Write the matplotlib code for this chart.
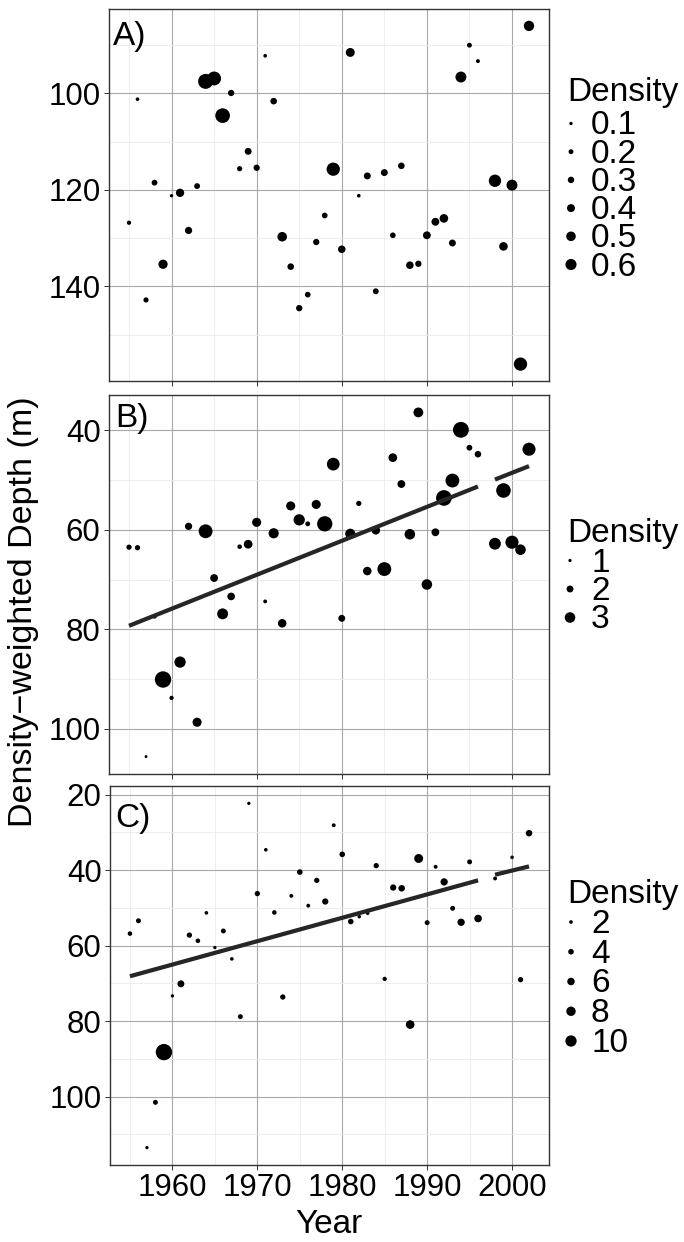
import numpy as np
import matplotlib
matplotlib.use("Agg")
import matplotlib.pyplot as plt
from matplotlib.ticker import FixedLocator

plt.rcParams['font.family'] = ['Liberation Sans', 'DejaVu Sans']

# ---------------- data ----------------
YEARS_AB = list(range(1955, 1997)) + [1998, 1999, 2000, 2001, 2002]
YEARS_C = list(range(1955, 1997)) + [1998, 2000, 2001, 2002]

DEPTH_A = [126.8, 101.2, 142.8, 118.5, 135.4, 121.2, 120.6, 128.4, 119.2, 97.5,
           96.9, 104.6, 99.9, 115.6, 112.0, 115.4, 92.2, 101.6, 129.7, 135.9,
           144.5, 141.7, 130.8, 125.3, 115.7, 132.3, 91.5, 121.2, 117.1, 141.0,
           116.4, 129.4, 115.0, 135.6, 135.3, 129.4, 126.6, 125.9, 131.0, 96.6,
           90.0, 93.3, 118.1, 131.7, 119.0, 156.1, 86.0]
DENS_A = [0.16, 0.12, 0.22, 0.26, 0.48, 0.10, 0.42, 0.35, 0.26, 0.85,
          0.78, 0.83, 0.29, 0.22, 0.33, 0.29, 0.12, 0.31, 0.50, 0.31,
          0.29, 0.25, 0.29, 0.25, 0.74, 0.37, 0.46, 0.12, 0.33, 0.26,
          0.33, 0.25, 0.31, 0.37, 0.29, 0.39, 0.39, 0.44, 0.33, 0.59,
          0.20, 0.14, 0.68, 0.44, 0.59, 0.74, 0.55]

DEPTH_B = [63.5, 63.6, 105.6, 77.4, 90.1, 93.8, 86.6, 59.3, 98.7, 60.3,
           69.7, 76.9, 73.4, 63.4, 62.9, 58.5, 74.4, 60.7, 78.8, 55.2,
           58.0, 58.8, 54.9, 58.8, 46.8, 77.8, 60.8, 54.7, 68.3, 60.1,
           67.9, 45.5, 50.8, 60.9, 36.4, 71.0, 60.5, 53.6, 50.1, 39.9,
           43.5, 44.8, 62.8, 52.1, 62.5, 64.0, 43.8]
DENS_B = [1.55, 1.55, 0.9, 1.35, 4.6, 1.27, 3.2, 2.1, 2.6, 3.9,
          2.25, 3.1, 2.2, 1.35, 2.5, 2.6, 1.17, 2.9, 2.45, 2.6,
          3.2, 1.45, 2.6, 4.3, 3.6, 2.0, 2.9, 1.55, 2.45, 2.45,
          3.9, 2.5, 2.25, 3.0, 2.8, 3.0, 2.25, 4.4, 3.9, 4.45,
          1.7, 1.9, 3.35, 4.1, 3.7, 3.0, 3.7]

DEPTH_C = [56.8, 53.4, 113.5, 101.5, 88.2, 73.3, 70.1, 57.2, 58.7, 51.3,
           60.5, 56.1, 63.5, 78.8, 22.3, 46.2, 34.6, 51.2, 73.6, 46.8,
           40.5, 49.4, 42.7, 48.3, 28.1, 35.8, 53.6, 52.3, 51.4, 38.8,
           68.8, 44.6, 44.8, 80.9, 36.9, 53.9, 39.1, 43.1, 50.1, 53.8,
           37.8, 52.8, 42.2, 36.6, 69.0, 30.2]
DENS_C = [2.9, 3.3, 1.6, 3.3, 15.3, 1.6, 5.4, 3.7, 2.9, 1.9,
          1.6, 3.3, 1.9, 3.3, 1.6, 3.7, 1.9, 2.9, 3.7, 2.2,
          4.0, 2.2, 3.7, 4.7, 2.2, 4.0, 4.0, 1.9, 1.9, 3.7,
          2.6, 4.7, 5.0, 7.2, 7.5, 3.3, 2.2, 5.8, 3.3, 5.8,
          3.3, 6.1, 2.2, 1.9, 3.7, 5.0]

# fitted trend lines (two segments, gap at 1997)
FIT_B_YEARS = [[1955, 1996], [1998, 2002]]
FIT_B_DEPTH = [[79.3, 51.3], [49.9, 47.2]]
FIT_C_YEARS = [[1955, 1996], [1998, 2002]]
FIT_C_DEPTH = [[68.1, 42.7], [41.2, 39.0]]

BREAKS_A = [0.1, 0.2, 0.3, 0.4, 0.5, 0.6]
BREAKS_B = [1, 2, 3]
BREAKS_C = [2, 4, 6, 8, 10]
LABELS_A = ['0.1', '0.2', '0.3', '0.4', '0.5', '0.6']
LABELS_B = ['1', '2', '3']
LABELS_C = ['2', '4', '6', '8', '10']

XTICKS = [1960, 1970, 1980, 1990, 2000]
YTICKS_A = [100, 120, 140]
YTICKS_B = [40, 60, 80, 100]
YTICKS_C = [20, 40, 60, 80, 100]

# ---------------- layout ----------------
W, H = 684, 1242
DPI = 100
fig = plt.figure(figsize=(W / DPI, H / DPI), dpi=DPI)
PT = 72.0 / DPI  # points per pixel


def rect(l, t, r, b):
    return [l / W, 1 - b / H, (r - l) / W, (b - t) / H]


def size_px(v, d0, k):
    return d0 + k * np.asarray(v, dtype=float)


def s_of(v, d0, k):
    return (size_px(v, d0, k) * PT) ** 2


XLIM = (1952.65, 2004.35)
FS = 22.5
FS_T = 24

panels = [
    dict(box=(109, 9, 549, 381), years=YEARS_AB, depth=DEPTH_A, dens=DENS_A,
         ylim=(159.6, 82.5), yt=YTICKS_A, fit=None, sz=(1.8, 15.5),
         breaks=BREAKS_A, blabels=LABELS_A, label='A)',
         leg=dict(title_y=100.5, first=134.5, step=28.2, dot_x=571),
         lab_xy=(113, 45)),
    dict(box=(109, 395, 549, 774), years=YEARS_AB, depth=DEPTH_B, dens=DENS_B,
         ylim=(109.1, 32.9), yt=YTICKS_B, fit=(FIT_B_YEARS, FIT_B_DEPTH),
         sz=(-0.4, 3.65), breaks=BREAKS_B, blabels=LABELS_B, label='B)',
         leg=dict(title_y=541.7, first=571.5, step=28.5, dot_x=570),
         lab_xy=(115, 427)),
    dict(box=(110, 786, 549, 1165), years=YEARS_C, depth=DEPTH_C, dens=DENS_C,
         ylim=(118.1, 17.7), yt=YTICKS_C, fit=(FIT_C_YEARS, FIT_C_DEPTH),
         sz=(1.8, 0.95), breaks=BREAKS_C, blabels=LABELS_C, label='C)',
         leg=dict(title_y=903, first=933, step=29.75, dot_x=571),
         lab_xy=(115, 827)),
]

ov = fig.add_axes([0, 0, 1, 1], zorder=10)
ov.set_xlim(0, W)
ov.set_ylim(H, 0)
ov.axis('off')
ov.patch.set_alpha(0)

for i, p in enumerate(panels):
    ax = fig.add_axes(rect(*p['box']))
    ax.set_xlim(*XLIM)
    ax.set_ylim(*p['ylim'])
    ax.xaxis.set_major_locator(FixedLocator(XTICKS))
    ax.xaxis.set_minor_locator(FixedLocator([1955, 1965, 1975, 1985, 1995, 2005]))
    ax.yaxis.set_major_locator(FixedLocator(p['yt']))
    minors = [t + 10 for t in p['yt']] + [p['yt'][0] - 10]
    ax.yaxis.set_minor_locator(FixedLocator(minors))
    ax.grid(True, which='major', color='#a8a8a8', lw=0.8)
    ax.grid(True, which='minor', color='#ebebeb', lw=0.6)
    ax.set_axisbelow(True)
    for sp in ax.spines.values():
        sp.set_color('#333333')
        sp.set_linewidth(1.0)
    ax.tick_params(which='major', length=3.6, width=0.7, color='#333333',
                   labelsize=FS, pad=2.5, labelcolor='black')
    ax.tick_params(which='minor', length=0)
    if i < 2:
        ax.tick_params(axis='x', labelbottom=False)
    ax.scatter(p['years'], p['depth'], s=s_of(p['dens'], *p['sz']),
               c='black', edgecolors='none', zorder=3)
    if p['fit'] is not None:
        for yrs, dep in zip(*p['fit']):
            ax.plot(yrs, dep, color='#262626', lw=4.2 * PT,
                    solid_capstyle='butt', zorder=4)
    # panel label
    ov.text(p['lab_xy'][0], p['lab_xy'][1], p['label'], fontsize=FS_T,
            ha='left', va='baseline')
    # legend
    lg = p['leg']
    ov.text(567, lg['title_y'], 'Density', fontsize=FS_T, ha='left',
            va='baseline')
    for j, (b, lab) in enumerate(zip(p['breaks'], p['blabels'])):
        yb = lg['first'] + j * lg['step']
        ov.scatter([lg['dot_x']], [yb - 11], s=s_of([b], *p['sz']), c='black',
                   edgecolors='none')
        ov.text(591, yb, lab, fontsize=FS_T, ha='left', va='baseline')

fig.text(329 / W, 1 - 1233 / H, 'Year', fontsize=FS_T, ha='center',
         va='baseline')
fig.text(24 / W, 1 - 612 / H, 'Density\u2212weighted Depth (m)', fontsize=24.5,
         rotation=90, ha='center', va='center')

fig.savefig('out.png', dpi=DPI)
